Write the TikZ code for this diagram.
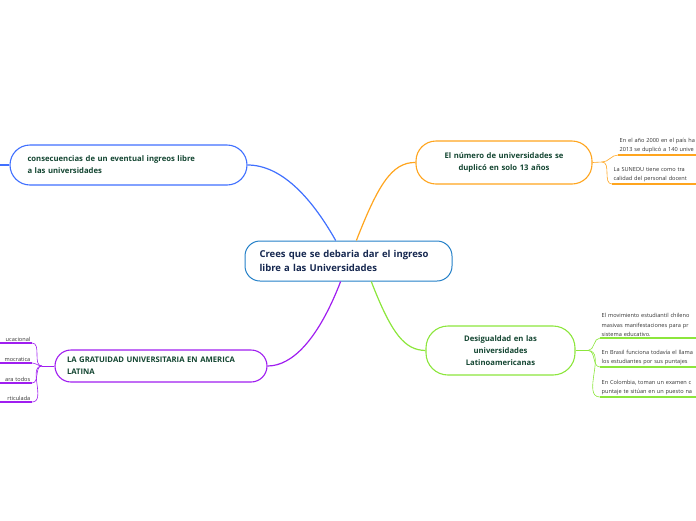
\documentclass[tikz,border=0pt]{standalone}
\usepackage{fontspec}
\setmainfont{Open Sans}
\usepackage{tikz}
\usetikzlibrary{positioning}
\usepackage{xcolor}
\definecolor{centerblue}{RGB}{36,128,200}
\definecolor{centertext}{RGB}{22,40,80}
\definecolor{topicblue}{RGB}{64,112,255}
\definecolor{topictext}{RGB}{20,70,50}
\definecolor{topicorange}{RGB}{255,165,30}
\definecolor{topicgreen}{RGB}{140,230,60}
\definecolor{topicpurple}{RGB}{160,30,240}
\definecolor{leaftext}{RGB}{50,50,50}

\begin{document}
\begin{tikzpicture}[
    x=1pt, y=-1pt,
    central/.style={rectangle, draw=centerblue, line width=1pt, fill=white, rounded corners=15pt,
        minimum width=207pt, minimum height=40pt, text width=178pt, align=left,
        font=\fontsize{9.5}{14.5}\selectfont\bfseries, text=centertext},
    topic/.style={rectangle, draw=#1, line width=1.1pt, fill=white, rounded corners=20pt,
        font=\fontsize{7.7}{12}\selectfont\bfseries, text=topictext},
    leaf/.style={rectangle, inner sep=1.5pt, text width=130pt, align=left,
        font=\fontsize{5.6}{9.2}\selectfont, text=leaftext},
    leafl/.style={leaf, align=right},
    link/.style={line width=1.2pt, #1},
    twig/.style={line width=0.6pt, #1},
    underline/.style={line width=1.6pt, #1}
]
    \useasboundingbox (0,0) rectangle (696,520);
    \clip (0,0) rectangle (696,520);

    \node[central] (center) at (348.5,261) {Crees que se debaria dar el ingreso\\libre a las Universidades};

    \node[topic=topicblue, minimum width=237pt, minimum height=40pt, text width=202pt, align=left] (conse) at (128.5,165)
        {consecuencias de un eventual ingreos libre\\a las universidades};
    \node[topic=topicorange, minimum width=176pt, minimum height=43pt, text width=150pt, align=center] (numero) at (504,162.5)
        {El número de universidades se\\duplicó en solo 13 años};
    \node[topic=topicgreen, minimum width=149pt, minimum height=49pt, text width=130pt, align=center, rounded corners=22pt] (desig) at (500.5,350.5)
        {Desigualdad en las\\universidades\\Latinoamericanas};
    \node[topic=topicpurple, minimum width=212pt, minimum height=32pt, text width=188pt, align=left, rounded corners=16pt] (gratuidad) at (161,366)
        {LA GRATUIDAD UNIVERSITARIA EN AMERICA\\LATINA};

    \coordinate (conseleft) at (-5,165);
    \draw[link=topicblue] (conse.west) -- (conseleft);

    \draw[link=topicblue] (center.122) .. controls (310,195) and (280,165) .. (conse.east);
    \draw[link=topicorange] (center.69) .. controls (378,185) and (392,162) .. (numero.west);
    \draw[link=topicgreen] (center.318) .. controls (392,335) and (405,350) .. (desig.west);
    \draw[link=topicpurple] (center.249) .. controls (318,340) and (292,366) .. (gratuidad.east);

    % hojas del tema naranja
    \node[leaf, anchor=south west] (n1) at (618,155) {En el año 2000 en el país ha\\2013 se duplicó a 140 unive};
    \node[leaf, anchor=south west] (n2) at (612,184) {La SUNEDU tiene como tra\\calidad del personal docent};
    \coordinate (nfork) at (602,162);
    \draw[twig=topicorange] (numero.east) -- (nfork);
    \foreach \leafnode in {n1,n2}
        \draw[twig=topicorange] (nfork) to[out=0,in=180] (\leafnode.south west);
    \foreach \leafnode in {n1,n2}
        \draw[underline=topicorange] (\leafnode.south west) -- (\leafnode.south east);

    % hojas del tema verde
    \node[leaf, anchor=south west] (d1) at (600,338) {El movimiento estudiantil chileno\\masivas manifestaciones para pr\\sistema educativo.};
    \node[leaf, anchor=south west] (d2) at (600,367) {En Brasil funciona todavía el llama\\los estudiantes por sus puntajes};
    \node[leaf, anchor=south west] (d3) at (600,397) {En Colombia, toman un examen c\\puntaje te sitúan en un puesto na};
    \coordinate (dfork) at (588,350.5);
    \draw[twig=topicgreen] (desig.east) -- (dfork);
    \foreach \leafnode in {d1,d2,d3}
        \draw[twig=topicgreen] (dfork) to[out=0,in=180] (\leafnode.south west);
    \foreach \leafnode in {d1,d2,d3}
        \draw[underline=topicgreen] (\leafnode.south west) -- (\leafnode.south east);

    % hojas del tema morado
    \node[leafl, anchor=south east] (g1) at (32,343) {ucacional};
    \node[leafl, anchor=south east] (g2) at (32,363) {mocratica};
    \node[leafl, anchor=south east] (g3) at (32,383) {ara todos};
    \node[leafl, anchor=south east] (g4) at (32,402) {rticulada};
    \coordinate (gfork) at (42,366);
    \draw[twig=topicpurple] (gratuidad.west) -- (gfork);
    \foreach \leafnode in {g1,g2,g3,g4}
        \draw[twig=topicpurple] (gfork) to[out=180,in=0] (\leafnode.south east);
    \foreach \leafnode in {g1,g2,g3,g4}
        \draw[underline=topicpurple] (\leafnode.south west) -- (\leafnode.south east);
\end{tikzpicture}
\end{document}
